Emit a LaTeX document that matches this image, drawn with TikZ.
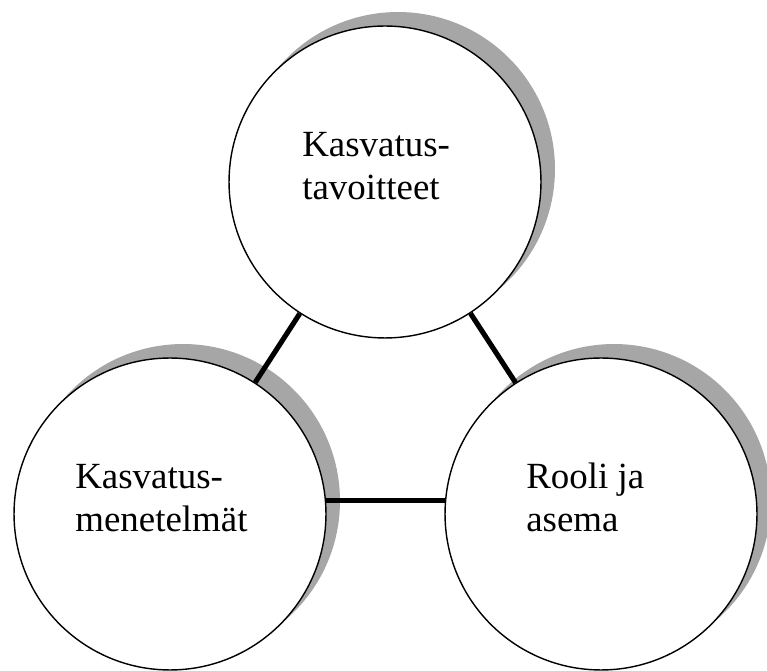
\documentclass[tikz,border=0pt]{standalone}
\usepackage{fontspec}
\setmainfont{Liberation Serif}
\usepackage{tikz}
\tikzset{
  ympyra/.style = {circle, draw=black, line width=0.8pt, fill=white,
    minimum size=6.24cm, inner sep=0pt},% ympyra, valkoinen
  varjo/.style = {fill=black!35},% ympyran varjo
  teksti/.style = {align=left, inner sep=0pt,
    font=\fontsize{21}{24.5}\selectfont},% ympyran teksti
  yhteys/.style = {line width=2.9pt, black}% paksu viiva
}

\begin{document}
\begin{tikzpicture}[x=0.02cm,y=-0.02cm]
    \useasboundingbox (0,0) rectangle (767,671);
    % varjot
    \fill[varjo] (398,169) circle (3.14cm);
    \fill[varjo] (183,501) circle (3.14cm);
    \fill[varjo] (614,501) circle (3.14cm);
    % ympyrat
    \node [ympyra] (tav) at (385,182) {};
    \node [ympyra] (men) at (170,514) {};
    \node [ympyra] (roo) at (601,514) {};
    % tekstit
    \node [teksti, anchor=base west] (tavt) at ([shift={(-83,18)}]tav.center) {Kasvatus-\\tavoitteet};
    \node [teksti, anchor=base west] (ment) at ([shift={(-95,18)}]men.center) {Kasvatus-\\menetelmät};
    \node [teksti, anchor=base west] (root) at ([shift={(-75,18)}]roo.center) {Rooli ja\\asema};
    % yhteydet
    \draw [yhteys] (tav) -- (men);
    \draw [yhteys] (tav) -- (roo);
    \draw [yhteys] (men.5) -- (roo.175);
\end{tikzpicture}
\end{document}
